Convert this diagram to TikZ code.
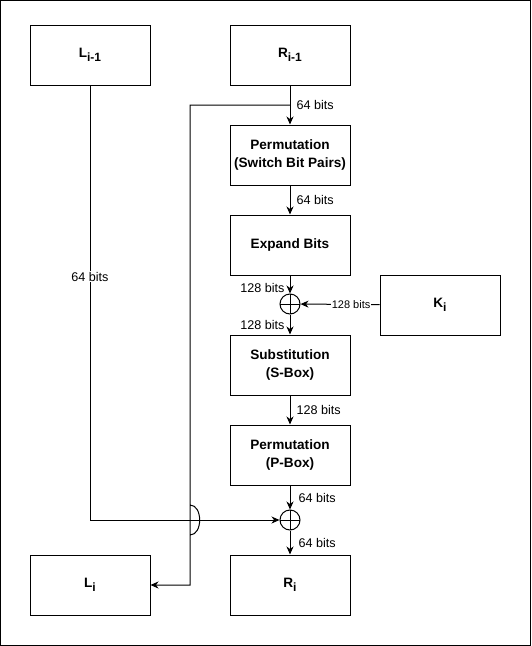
\documentclass[tikz,border=0pt]{standalone}
\usepackage{fontspec}
\setmainfont{Liberation Sans}
\usetikzlibrary{arrows.meta}

\newcommand{\idx}[1]{\raisebox{-3.5pt}{\fontsize{12}{12}\selectfont #1}}

\tikzset{
    block/.style={draw, line width=1pt, minimum width=120pt, minimum height=60pt,
        inner sep=0pt, align=center, font=\fontsize{13.6}{18}\selectfont\bfseries},
    xor/.style={draw, circle, line width=1pt, minimum size=20pt, inner sep=0pt,
        path picture={\draw[line width=1pt]
            (path picture bounding box.north) -- (path picture bounding box.south)
            (path picture bounding box.west) -- (path picture bounding box.east);}},
    bits/.style={font=\fontsize{12.6}{14}\selectfont, inner sep=1pt},
    smallbits/.style={font=\fontsize{11}{12}\selectfont, inner sep=1pt, fill=white},
}

\begin{document}
\begin{tikzpicture}[x=1pt, y=-1pt, line width=1pt,
        >={Stealth[length=8pt, width=7pt, inset=2.5pt]}]
        \useasboundingbox (0, 0) rectangle (531, 646);
        \draw (0.5, 0.5) rectangle (530.5, 645.5);

        \node[block] (lprev)  at (90,  55)  {L\idx{i-1}};
        \node[block] (rprev)  at (290, 55)  {R\idx{i-1}};
        \node[block] (perm)   at (290, 155) {Permutation\\(Switch Bit Pairs)};
        \node[block] (expand) at (290, 245) {Expand Bits};
        \node[xor]   (xa)     at (290, 304) {};
        \node[block] (key)    at (440, 305) {K\idx{i}};
        \node[block] (subst)  at (290, 365) {Substitution\\(S-Box)};
        \node[block] (pbox)   at (290, 455) {Permutation\\(P-Box)};
        \node[xor]   (xb)     at (290, 520) {};
        \node[block] (lnext)  at (90,  585) {L\idx{i}};
        \node[block] (rnext)  at (290, 585) {R\idx{i}};

        \coordinate (split) at (290, 105);
        \coordinate (bend)  at (190, 105);
        \coordinate (hop)   at (190, 520);
        \coordinate (down)  at (190, 585);

        \draw[->] (rprev) -- node[bits, right=5pt] {64 bits} (perm);
        \draw[->] (perm) -- node[bits, right=5pt] {64 bits} (expand);
        \draw[->] (expand) -- node[bits, left=4pt, yshift=-3pt] {128 bits} (xa);
        \draw[->] (key) -- node[smallbits, pos=0.36] {128 bits} (xa);
        \draw[->] (xa) -- node[bits, left=4pt] {128 bits} (subst);
        \draw[->] (subst) -- node[bits, right=5pt] {128 bits} (pbox);
        \draw[->] (pbox) -- node[bits, right=7pt] {64 bits} (xb);
        \draw[->] (xb) -- node[bits, right=7pt] {64 bits} (rnext);

        \draw[->] (lprev) |- node[bits, pos=0.22, fill=white] {64 bits} (xb);
        \draw[->] (split) -- (bend) -- ([yshift=-15pt]hop)
            to[out=0, in=0, looseness=1.1] ([yshift=15pt]hop)
            -- (down) -- (lnext);
    \end{tikzpicture}
\end{document}
